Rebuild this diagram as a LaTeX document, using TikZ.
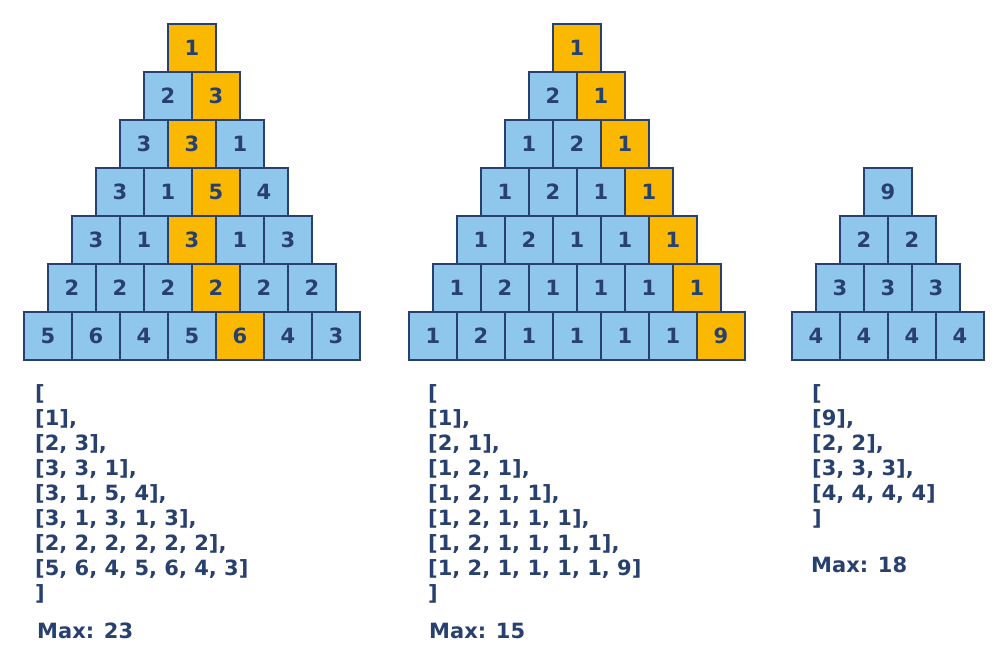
\documentclass[tikz,border=0pt]{standalone}
\usepackage{fontspec}
\setmainfont{DejaVu Sans}
\usetikzlibrary{positioning}
\definecolor{cellblue}{RGB}{142,198,236}
\definecolor{cellgold}{RGB}{250,185,0}
\definecolor{inkblue}{RGB}{40,64,110}
\newcommand{\clrcell}{cellblue}
\newcommand{\clrpath}{cellgold}

\tikzset{
  cell/.style={draw=inkblue, line width=1.2pt, fill=\clrcell, minimum size=48pt,
    inner sep=0pt, text=inkblue, font=\bfseries\fontsize{21}{25}\selectfont},
  pathcell/.style={cell, fill=\clrpath},
  listline/.style={anchor=base west, inner sep=0pt, text=inkblue,
    font=\bfseries\fontsize{21}{25}\selectfont}
}

\begin{document}
\begin{tikzpicture}[x=1pt, y=-1pt]

    \useasboundingbox (0,0) rectangle (1000,660);

    % first triangle, path 1-3-3-5-3-2-6
    \foreach \r/\vals/\hl in {0/{1}/0, 1/{2,3}/1, 2/{3,3,1}/1, 3/{3,1,5,4}/2,
        4/{3,1,3,1,3}/2, 5/{2,2,2,2,2,2}/3, 6/{5,6,4,5,6,4,3}/4}
      \foreach \v [count=\c from 0] in \vals {
        \edef\sty{\ifnum\c=\hl pathcell\else cell\fi}
        \node[\sty] (a-\r-\c) at (192-24*\r+48*\c, 48+48*\r) {\v};
      };

    % second triangle, path along the right edge
    \foreach \r/\vals in {0/{1}, 1/{2,1}, 2/{1,2,1}, 3/{1,2,1,1},
        4/{1,2,1,1,1}, 5/{1,2,1,1,1,1}, 6/{1,2,1,1,1,1,9}}
      \foreach \v [count=\c from 0] in \vals {
        \edef\sty{\ifnum\c=\r pathcell\else cell\fi}
        \node[\sty] (b-\r-\c) at (577-24*\r+48*\c, 48+48*\r) {\v};
      };

    % third triangle, no path
    \foreach \r/\vals in {0/{9}, 1/{2,2}, 2/{3,3,3}, 3/{4,4,4,4}}
      \foreach \v [count=\c from 0] in \vals
        \node[cell] (c-\r-\c) at (888-24*\r+48*\c, 192+48*\r) {\v};

    % the input lists
    \foreach \t [count=\i from 0] in {{[}, {[1],}, {[2, 3],}, {[3, 3, 1],},
        {[3, 1, 5, 4],}, {[3, 1, 3, 1, 3],}, {[2, 2, 2, 2, 2, 2],},
        {[5, 6, 4, 5, 6, 4, 3]}, {]}}
      \node[listline] (la-\i) at (35, 400+25.1*\i) {\t};
    \node[listline] (maxa) at (37,638) {Max: 23};

    \foreach \t [count=\i from 0] in {{[}, {[1],}, {[2, 1],}, {[1, 2, 1],},
        {[1, 2, 1, 1],}, {[1, 2, 1, 1, 1],}, {[1, 2, 1, 1, 1, 1],},
        {[1, 2, 1, 1, 1, 1, 9]}, {]}}
      \node[listline] (lb-\i) at (428, 400+25.1*\i) {\t};
    \node[listline] (maxb) at (429,638) {Max: 15};

    \foreach \t [count=\i from 0] in {{[}, {[9],}, {[2, 2],}, {[3, 3, 3],},
        {[4, 4, 4, 4]}, {]}}
      \node[listline] (lc-\i) at (812, 400+25.1*\i) {\t};
    \node[listline] (maxc) at (811,572) {Max: 18};

\end{tikzpicture}
\end{document}
